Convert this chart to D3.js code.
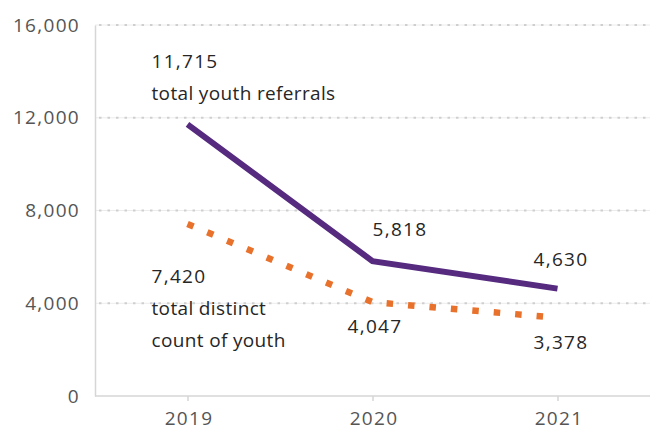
<!DOCTYPE html>
<html>
<head>
<meta charset="utf-8">
<script src="https://cdn.jsdelivr.net/npm/d3@7"></script>
<style>
  html, body { margin: 0; padding: 0; background: #fff; }
  svg { display: block; }
  text { font-family: "Open Sans", Lato, sans-serif; }
</style>
</head>
<body>
<svg id="chart" width="652" height="431"></svg>
<script>
// Youth referrals vs. distinct youth counted, by year
const years = ["2019", "2020", "2021"];
const referrals = [11715, 5818, 4630];
const distinctYouth = [7420, 4047, 3378];
const yTicks = [0, 4000, 8000, 12000, 16000];

const W = 652, H = 431;
const margin = { top: 25, right: 2, bottom: 35, left: 95 };
const FONT = "'Open Sans', Lato, sans-serif";
const FS = 19;
const NUM_SPACING = "1.3px";
const WORD_SPACING = "0.35px";

const svg = d3.select("#chart");

const x = d3.scalePoint()
  .domain(years)
  .range([margin.left, W - margin.right])
  .padding(0.5);

const y = d3.scaleLinear()
  .domain([0, 16000])
  .range([H - margin.bottom, margin.top]);

const fmt = d3.format(",");

// horizontal dotted gridlines
const grid = svg.append("g");
grid.selectAll("line.faint")
  .data(yTicks.filter(d => d > 0))
  .join("line")
  .attr("x1", margin.left).attr("x2", W - margin.right)
  .attr("y1", d => y(d)).attr("y2", d => y(d))
  .attr("stroke", "#ececec").attr("stroke-width", 1);
grid.selectAll("line.dot")
  .data(yTicks.filter(d => d > 0))
  .join("line")
  .attr("x1", margin.left + 4).attr("x2", W - margin.right)
  .attr("y1", d => y(d)).attr("y2", d => y(d))
  .attr("stroke", "#cfcfcf").attr("stroke-width", 2)
  .attr("stroke-dasharray", "2.5,6");

// y axis
const yAxis = svg.append("g")
  .attr("transform", `translate(${margin.left},0)`)
  .call(d3.axisLeft(y).tickValues(yTicks).tickFormat(fmt).tickSize(0).tickPadding(15));
yAxis.select(".domain").attr("stroke", "#d6d6d6").attr("stroke-width", 1.5);
yAxis.selectAll("text")
  .attr("fill", "#555").attr("font-size", FS)
  .attr("font-family", FONT)
  .attr("letter-spacing", NUM_SPACING);

// x axis
const xAxis = svg.append("g")
  .attr("transform", `translate(0,${H - margin.bottom})`)
  .call(d3.axisBottom(x).tickSize(5).tickPadding(11));
xAxis.select(".domain")
  .attr("d", `M${margin.left},0H${W - margin.right}`)
  .attr("stroke", "#d6d6d6").attr("stroke-width", 1.5);
xAxis.selectAll(".tick line").attr("stroke", "#d6d6d6").attr("stroke-width", 1.5);
xAxis.selectAll("text")
  .attr("fill", "#555").attr("font-size", FS)
  .attr("font-family", FONT)
  .attr("letter-spacing", NUM_SPACING)
  .attr("dx", 1);

const line = d3.line().x((d, i) => x(years[i])).y(d => y(d));

// total distinct count of youth (orange dotted)
svg.append("path")
  .datum(distinctYouth)
  .attr("d", line)
  .attr("fill", "none")
  .attr("stroke", "#e8712b")
  .attr("stroke-width", 6.5)
  .attr("stroke-dasharray", "6.5,15");

// total youth referrals (purple solid)
svg.append("path")
  .datum(referrals)
  .attr("d", line)
  .attr("fill", "none")
  .attr("stroke", "#552a7f")
  .attr("stroke-width", 6);

// value labels and series captions
const labels = svg.append("g")
  .attr("fill", "#262626")
  .attr("font-size", FS)
  .attr("font-family", FONT);

function label(txt, px, py, spacing) {
  labels.append("text").attr("x", px).attr("y", py)
    .attr("letter-spacing", spacing).text(txt);
}

label(fmt(referrals[0]), x(years[0]) - 36, y(referrals[0]) - 56, NUM_SPACING);
label("total youth referrals", x(years[0]) - 36, y(referrals[0]) - 24, WORD_SPACING);
label(fmt(referrals[1]), x(years[1]) + 0, y(referrals[1]) - 25, NUM_SPACING);
label(fmt(referrals[2]), x(years[2]) - 24, y(referrals[2]) - 23, NUM_SPACING);

label(fmt(distinctYouth[0]), x(years[0]) - 36, y(distinctYouth[0]) + 59, NUM_SPACING);
label("total distinct", x(years[0]) - 36, y(distinctYouth[0]) + 91, WORD_SPACING);
label("count of youth", x(years[0]) - 36, y(distinctYouth[0]) + 123, WORD_SPACING);
label(fmt(distinctYouth[1]), x(years[1]) - 25, y(distinctYouth[1]) + 31, NUM_SPACING);
label(fmt(distinctYouth[2]), x(years[2]) - 24, y(distinctYouth[2]) + 31, NUM_SPACING);
</script>
</body>
</html>
